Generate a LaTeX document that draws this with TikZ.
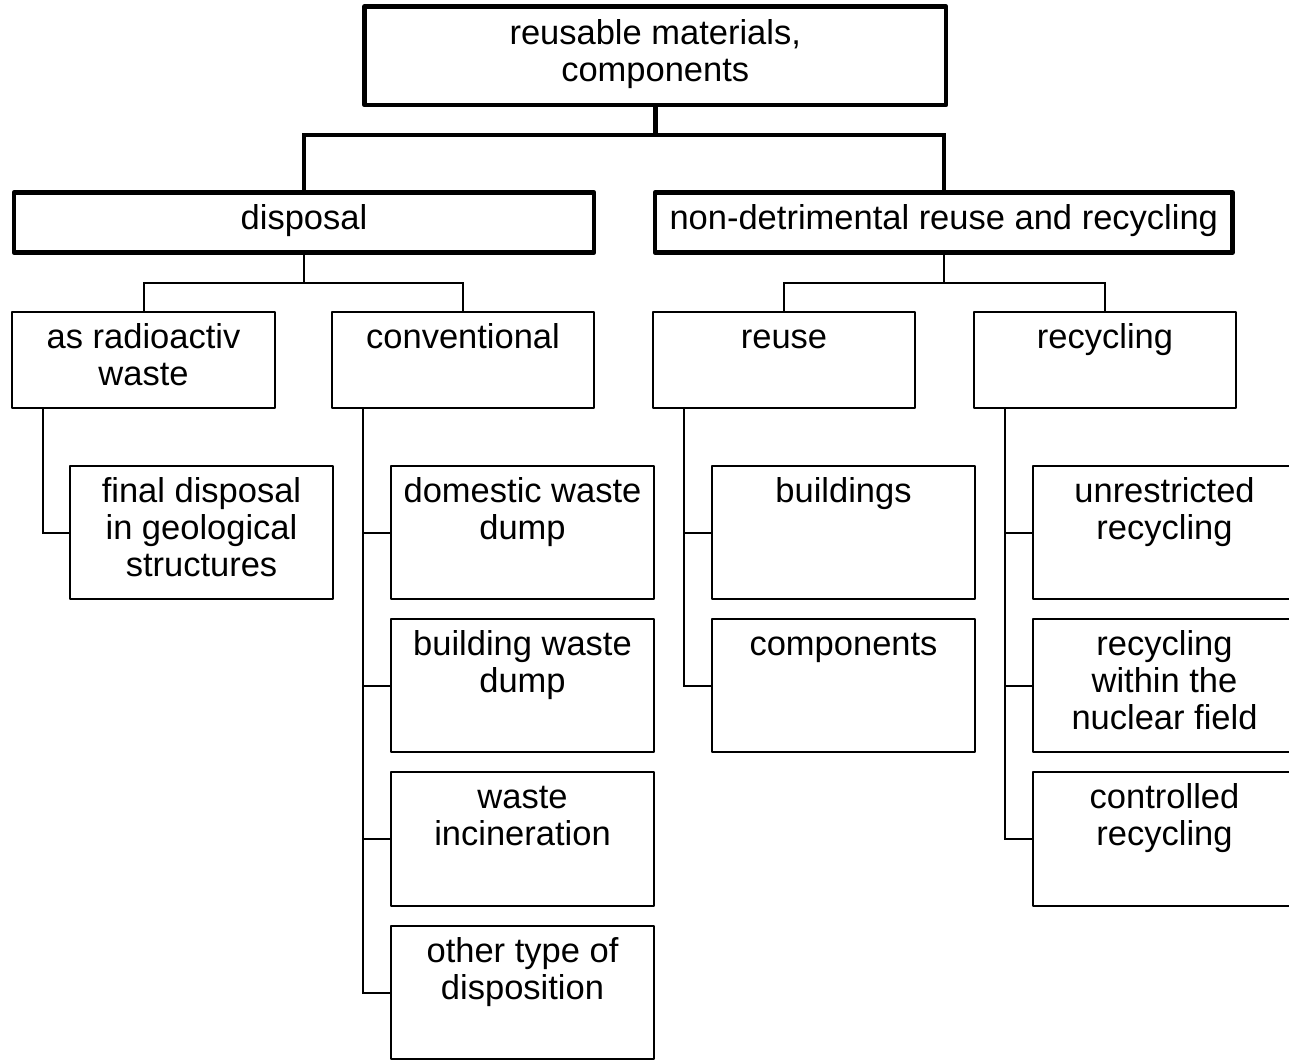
\documentclass[tikz,border=0pt]{standalone}
\usepackage{fontspec}
\setmainfont{Liberation Sans}

% fixed-size text cell: width, height, depth of first baseline below the top, text
\newcommand\cellbox[4]{\parbox[t][#2pt][t]{#1pt}{\centering\rule{0pt}{#3pt}#4}}

\tikzset{
  x=1pt, y=-1pt,
  box/.style={draw, line width=2pt, inner sep=0pt, outer sep=0pt,
              anchor=north west, line join=round,
              font=\fontsize{34.5}{37}\selectfont},
  mainbox/.style={box, line width=4.5pt},
  link/.style={line width=2pt},
  mainlink/.style={line width=4.5pt}
}

\begin{document}
\begin{tikzpicture}
\useasboundingbox (0,0) rectangle (1289,1061);
\clip (0,0) rectangle (1289,1061);

% root and first level
\node[mainbox] (top) at (364.5,6.5)
  {\cellbox{581.5}{98.5}{38}{reusable materials,\\components}};
\node[mainbox] (disp) at (14,192.5)
  {\cellbox{580}{60}{36.5}{disposal}};
\node[mainbox] (nondet) at (655,192.5)
  {\cellbox{577.5}{60}{36.5}{non-detrimental reuse and recycling}};

% second level
\node[box] (rad) at (12,312) {\cellbox{263}{96}{36}{as radioactiv\\waste}};
\node[box] (conv) at (332,312) {\cellbox{262}{96}{36}{conventional}};
\node[box] (reuse) at (653,312) {\cellbox{262}{96}{36}{reuse}};
\node[box] (recyc) at (974,312) {\cellbox{262}{96}{36}{recycling}};

% leaves under "as radioactiv waste"
\node[box] (fin) at (70,466) {\cellbox{263}{133}{36}{final disposal\\in geological\\structures}};

% leaves under "conventional"
\node[box] (dom) at (391,466) {\cellbox{263}{133}{36}{domestic waste\\dump}};
\node[box] (bwd) at (391,619) {\cellbox{263}{133}{36}{building waste\\dump}};
\node[box] (inc) at (391,772) {\cellbox{263}{134}{36}{waste\\incineration}};
\node[box] (oth) at (391,926) {\cellbox{263}{133}{36}{other type of\\disposition}};

% leaves under "reuse"
\node[box] (bld) at (712,466) {\cellbox{263}{133}{36}{buildings}};
\node[box] (cmp) at (712,619) {\cellbox{263}{133}{36}{components}};

% leaves under "recycling"
\node[box] (unr) at (1033,466) {\cellbox{263}{133}{36}{unrestricted\\recycling}};
\node[box] (nuc) at (1033,619) {\cellbox{263}{133}{36}{recycling\\within the\\nuclear field}};
\node[box] (ctl) at (1033,772) {\cellbox{263}{134}{36}{controlled\\recycling}};

% tree connectors
\draw[mainlink] (top.south) -- ++(0,30) coordinate (b1);
\draw[mainlink] (disp.north) |- (b1) -| (nondet.north);

\draw[link] (disp.south) -- ++(0,30.5) coordinate (b2);
\draw[link] (rad.north) |- (b2) -| (conv.north);
\draw[link] (nondet.south) -- ++(0,30.5) coordinate (b3);
\draw[link] (reuse.north) |- (b3) -| (recyc.north);

\draw[link] ([xshift=31pt]rad.south west) |- (fin.west);

\foreach \leaf in {dom,bwd,inc,oth}
  \draw[link] ([xshift=31pt]conv.south west) |- (\leaf.west);
\foreach \leaf in {bld,cmp}
  \draw[link] ([xshift=31pt]reuse.south west) |- (\leaf.west);
\foreach \leaf in {unr,nuc,ctl}
  \draw[link] ([xshift=31pt]recyc.south west) |- (\leaf.west);
\end{tikzpicture}
\end{document}
